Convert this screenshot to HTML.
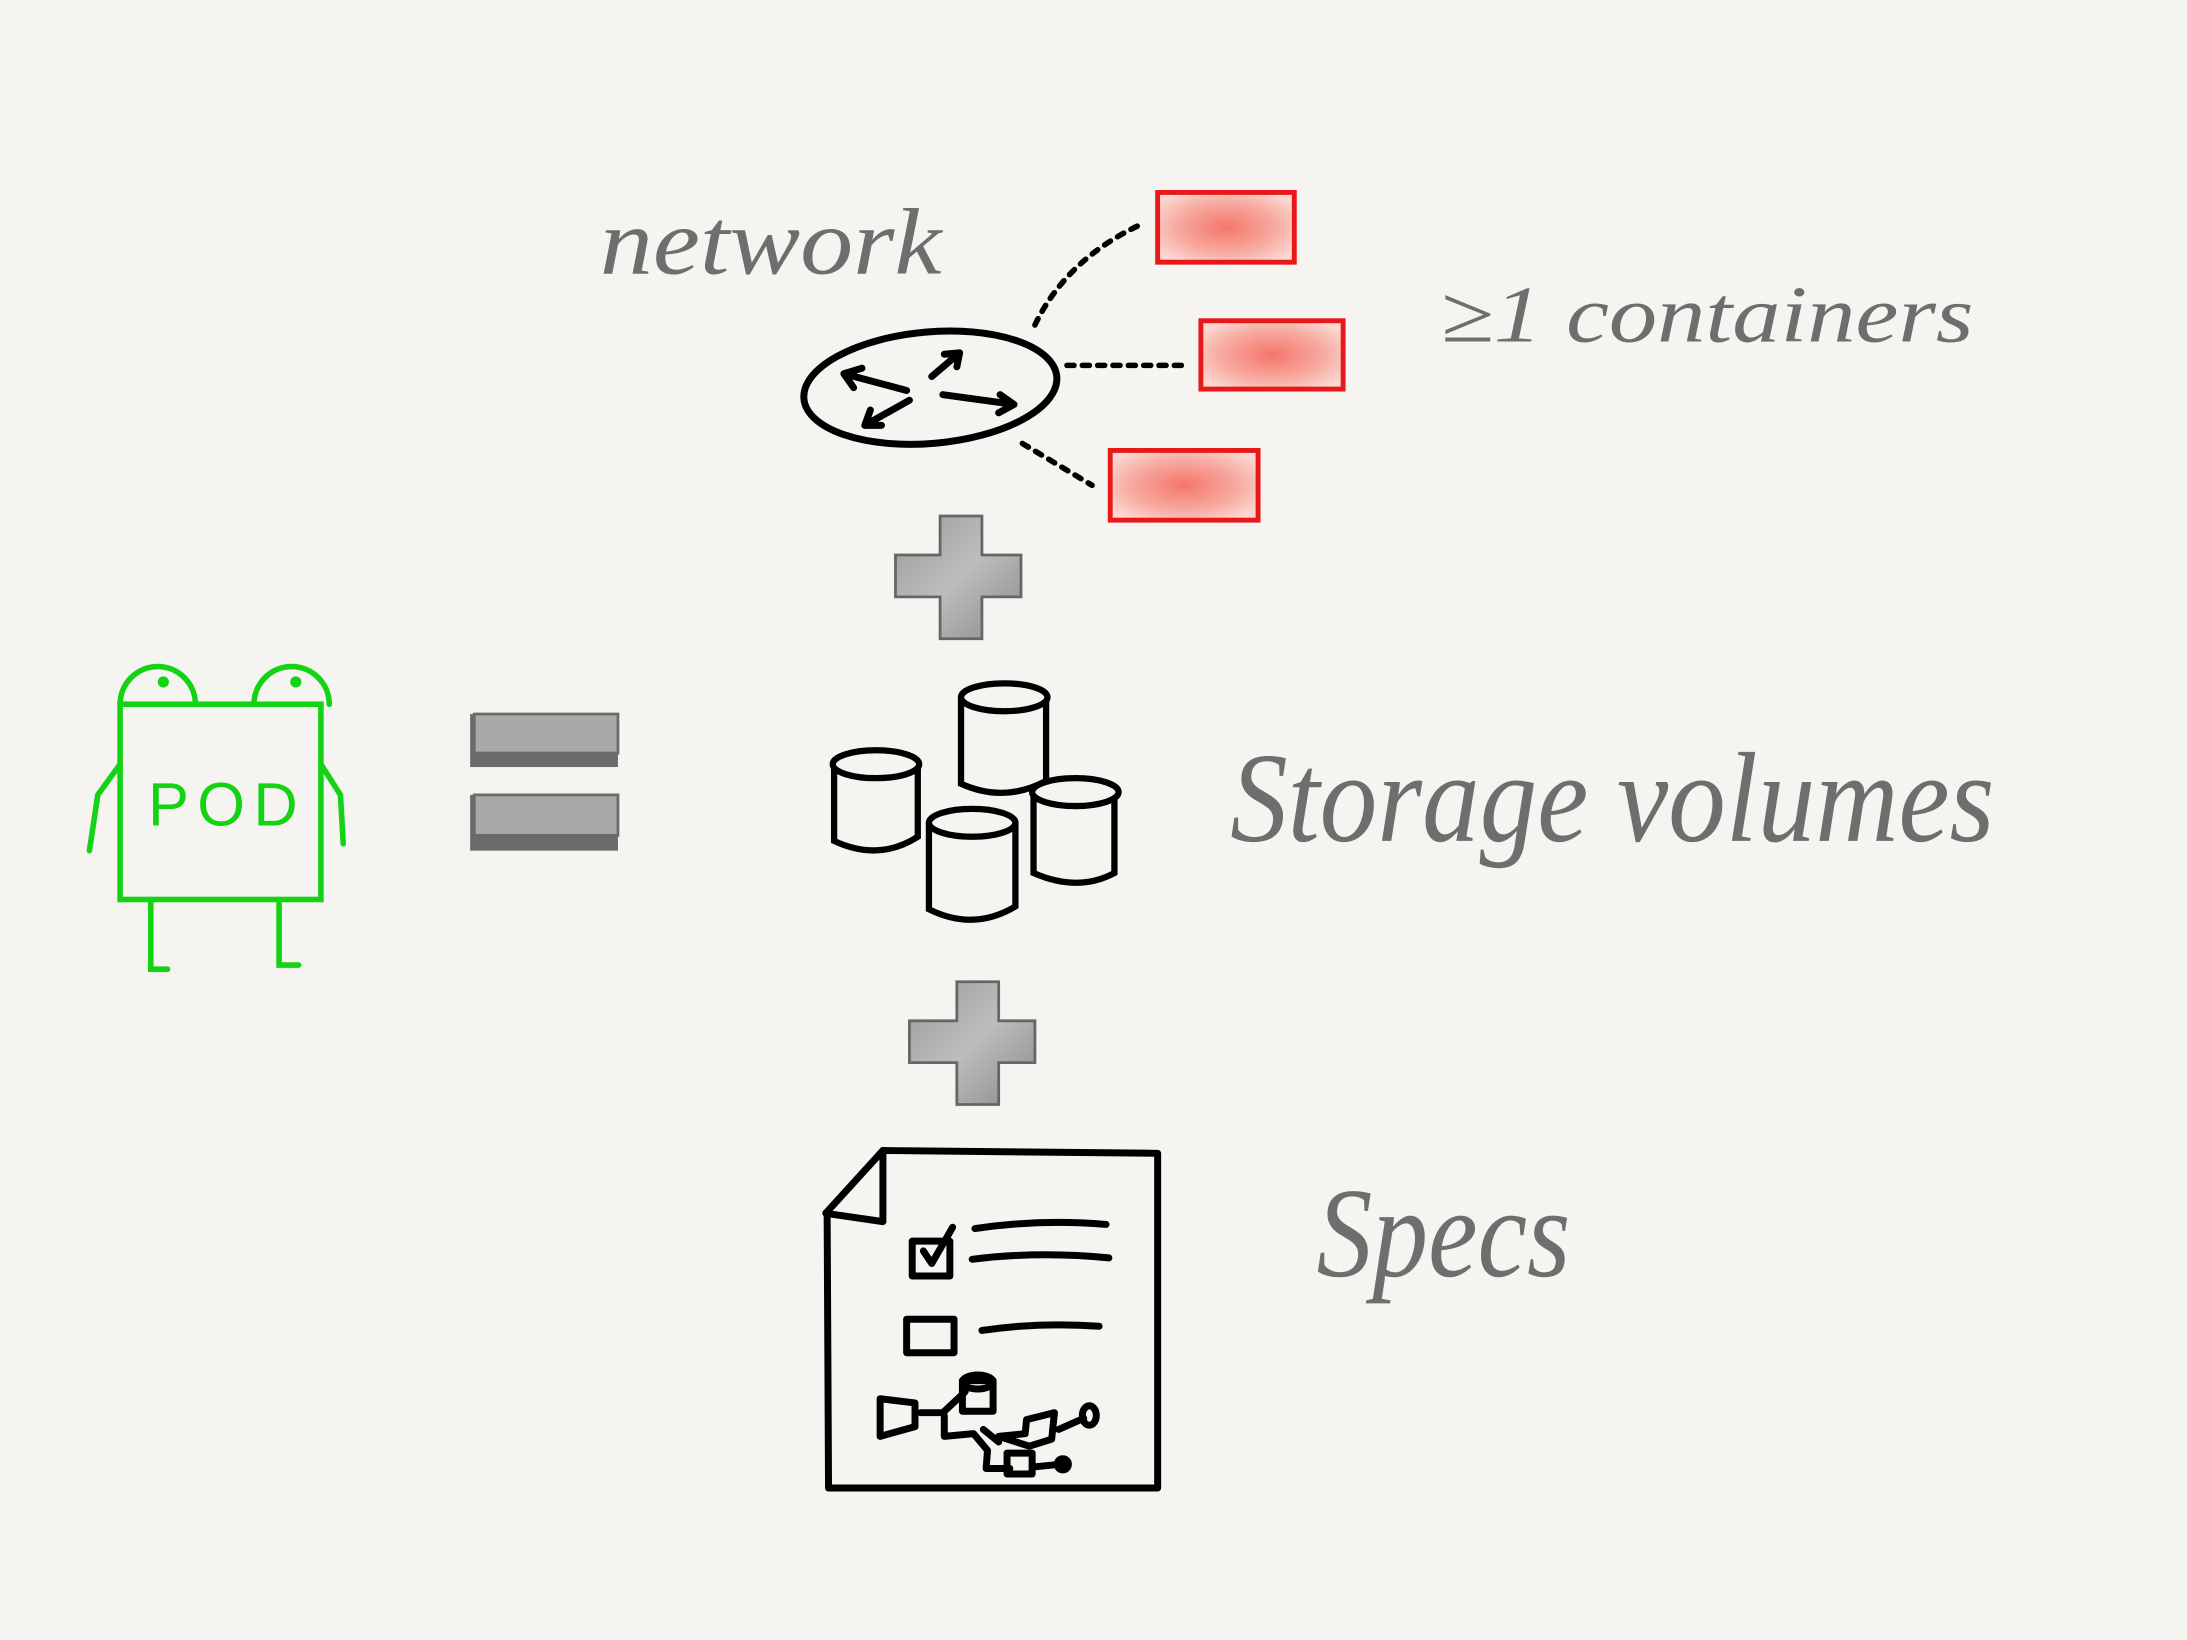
<!DOCTYPE html>
<html><head><meta charset="utf-8"><style>
html,body{margin:0;padding:0;background:#f5f4f0;}
svg{display:block;}
text{font-family:"Liberation Serif",serif;font-style:italic;fill:#6e6e6e;}
</style></head><body>
<svg width="2187" height="1640" viewBox="0 0 1568 1176" xmlns="http://www.w3.org/2000/svg">
<defs>
<radialGradient id="rg" cx="50%" cy="50%" r="60%"><stop offset="0" stop-color="#f4766a"/><stop offset="0.6" stop-color="#f7aaa0"/><stop offset="1" stop-color="#fbd8d2"/></radialGradient>
<linearGradient id="gg" x1="0" y1="0" x2="1" y2="1"><stop offset="0" stop-color="#9a9a9a"/><stop offset="0.5" stop-color="#bdbdbd"/><stop offset="1" stop-color="#8a8a8a"/></linearGradient>
</defs>
<rect width="1568" height="1176" fill="#f5f4f0"/>

<text x="430" y="196" font-size="68" textLength="245" lengthAdjust="spacingAndGlyphs">network</text>
<text x="1033" y="245" font-size="58" textLength="382" lengthAdjust="spacingAndGlyphs">≥1 containers</text>
<text x="882" y="603" font-size="92" textLength="548" lengthAdjust="spacingAndGlyphs">Storage volumes</text>
<text x="944" y="915" font-size="92" textLength="182" lengthAdjust="spacingAndGlyphs">Specs</text>

<g stroke="#000" stroke-width="5" fill="none" stroke-linecap="round" stroke-linejoin="round">
<ellipse cx="667" cy="278" rx="91" ry="40" transform="rotate(-5 667 278)"/>
<path d="M650 280 L605 268 M605 268 L618 264 M605 268 L612 278"/>
<path d="M668 270 L688 253 M688 253 L677 254 M688 253 L686 263"/>
<path d="M652 287 L620 305 M620 305 L624 294 M620 305 L632 305"/>
<path d="M676 283 L727 290 M727 290 L717 283 M727 290 L716 296"/>
</g>
<g stroke="#000" stroke-width="4" fill="none" stroke-dasharray="5 6" stroke-linecap="round">
<path d="M742 233 Q765 185 820 160"/>
<path d="M765 262 L850 262"/>
<path d="M733 318 L783 348"/>
</g>
<g stroke="#e81818" stroke-width="3.5" fill="url(#rg)">
<rect x="830" y="138" width="98" height="50"/>
<rect x="861" y="230" width="102" height="49"/>
<rect x="796" y="323" width="106" height="50"/>
</g>

<g fill="url(#gg)" stroke="#666" stroke-width="2">
<path d="M674 370 h30 v28 h28 v30 h-28 v30 h-30 v-30 h-32 v-30 h32z"/>
<path d="M686 704 h30 v28 h26 v30 h-26 v30 h-30 v-30 h-34 v-30 h34z"/>
</g>

<g>
<rect x="337" y="512" width="106" height="38" fill="#6b6b6b"/>
<rect x="340" y="512" width="103" height="28" fill="#a9a9a9" stroke="#6b6b6b" stroke-width="2"/>
<rect x="337" y="570" width="106" height="40" fill="#6b6b6b"/>
<rect x="340" y="570" width="103" height="29" fill="#a9a9a9" stroke="#6b6b6b" stroke-width="2"/>
</g>

<g stroke="#000" stroke-width="4.5" fill="#f5f4f0" stroke-linecap="round">
<g transform="translate(630,548)"><path d="M-32 0 V55 Q0 70 28 52 V0"/><ellipse cx="-2" cy="0" rx="31" ry="10"/></g>
<g transform="translate(720,500)"><path d="M-31 0 V62 Q0 76 30 60 V0"/><ellipse cx="0" cy="0" rx="31" ry="10"/></g>
<g transform="translate(773,568)"><path d="M-32 0 V58 Q0 72 26 58 V0"/><ellipse cx="-2" cy="0" rx="31" ry="10"/></g>
<g transform="translate(698,590)"><path d="M-32 0 V62 Q0 78 30 60 V0"/><ellipse cx="-1" cy="0" rx="31" ry="10"/></g>
</g>

<g stroke="#14d214" stroke-width="4" fill="none" stroke-linecap="round">
<path d="M86 505 A27 27 0 0 1 140 505"/>
<path d="M182 505 A27 27 0 0 1 236 505"/>
<circle cx="117" cy="489" r="2" fill="#14d214"/>
<circle cx="212" cy="489" r="2" fill="#14d214"/>
<rect x="86" y="505" width="144" height="140"/>
<path d="M86 548 L70 570 L64 610"/>
<path d="M230 548 L244 570 L246 605"/>
<path d="M108 645 V695 H120"/>
<path d="M200 645 V692 H214"/>
</g>
<text x="106" y="592" font-size="44" style="font-style:normal;font-family:'Liberation Sans',sans-serif;fill:#14d214;letter-spacing:6px">POD</text>

<g stroke="#000" stroke-width="5" fill="none" stroke-linecap="round" stroke-linejoin="round">
<path d="M633 825 L830 827 L830 1067 L594 1067 L593 872"/>
<path d="M633 825 L592 870 L633 876 Z"/>
<rect x="654" y="890" width="27" height="25"/>
<path d="M662 897 L668 906 L683 880"/>
<path d="M699 881 Q745 874 793 878"/>
<path d="M697 903 Q745 897 795 902"/>
<rect x="650" y="946" width="34" height="24"/>
<path d="M704 954 Q745 948 788 951"/>
<path d="M631 1003 L656 1006 L656 1023 L631 1030 Z"/>
<path d="M660 1013 L676 1013 L692 998"/>
<path d="M690 990 h22 v22 h-22 z"/>
<ellipse cx="701" cy="991" rx="11" ry="5"/>
<path d="M677 1015 V1030 L698 1028 L708 1040 L707 1053 L724 1053"/>
<path d="M705 1025 L716 1034"/>
<rect x="722" y="1042" width="18" height="15"/>
<path d="M740 1052 L760 1050"/>
<circle cx="762" cy="1050" r="4" fill="#000"/>
<path d="M716 1030 L735 1028 L736 1018 L756 1013 L754 1032 L738 1037 Z"/>
<path d="M759 1025 L777 1017"/>
<ellipse cx="781" cy="1015" rx="5" ry="7"/>
</g>
</svg>
</body></html>
